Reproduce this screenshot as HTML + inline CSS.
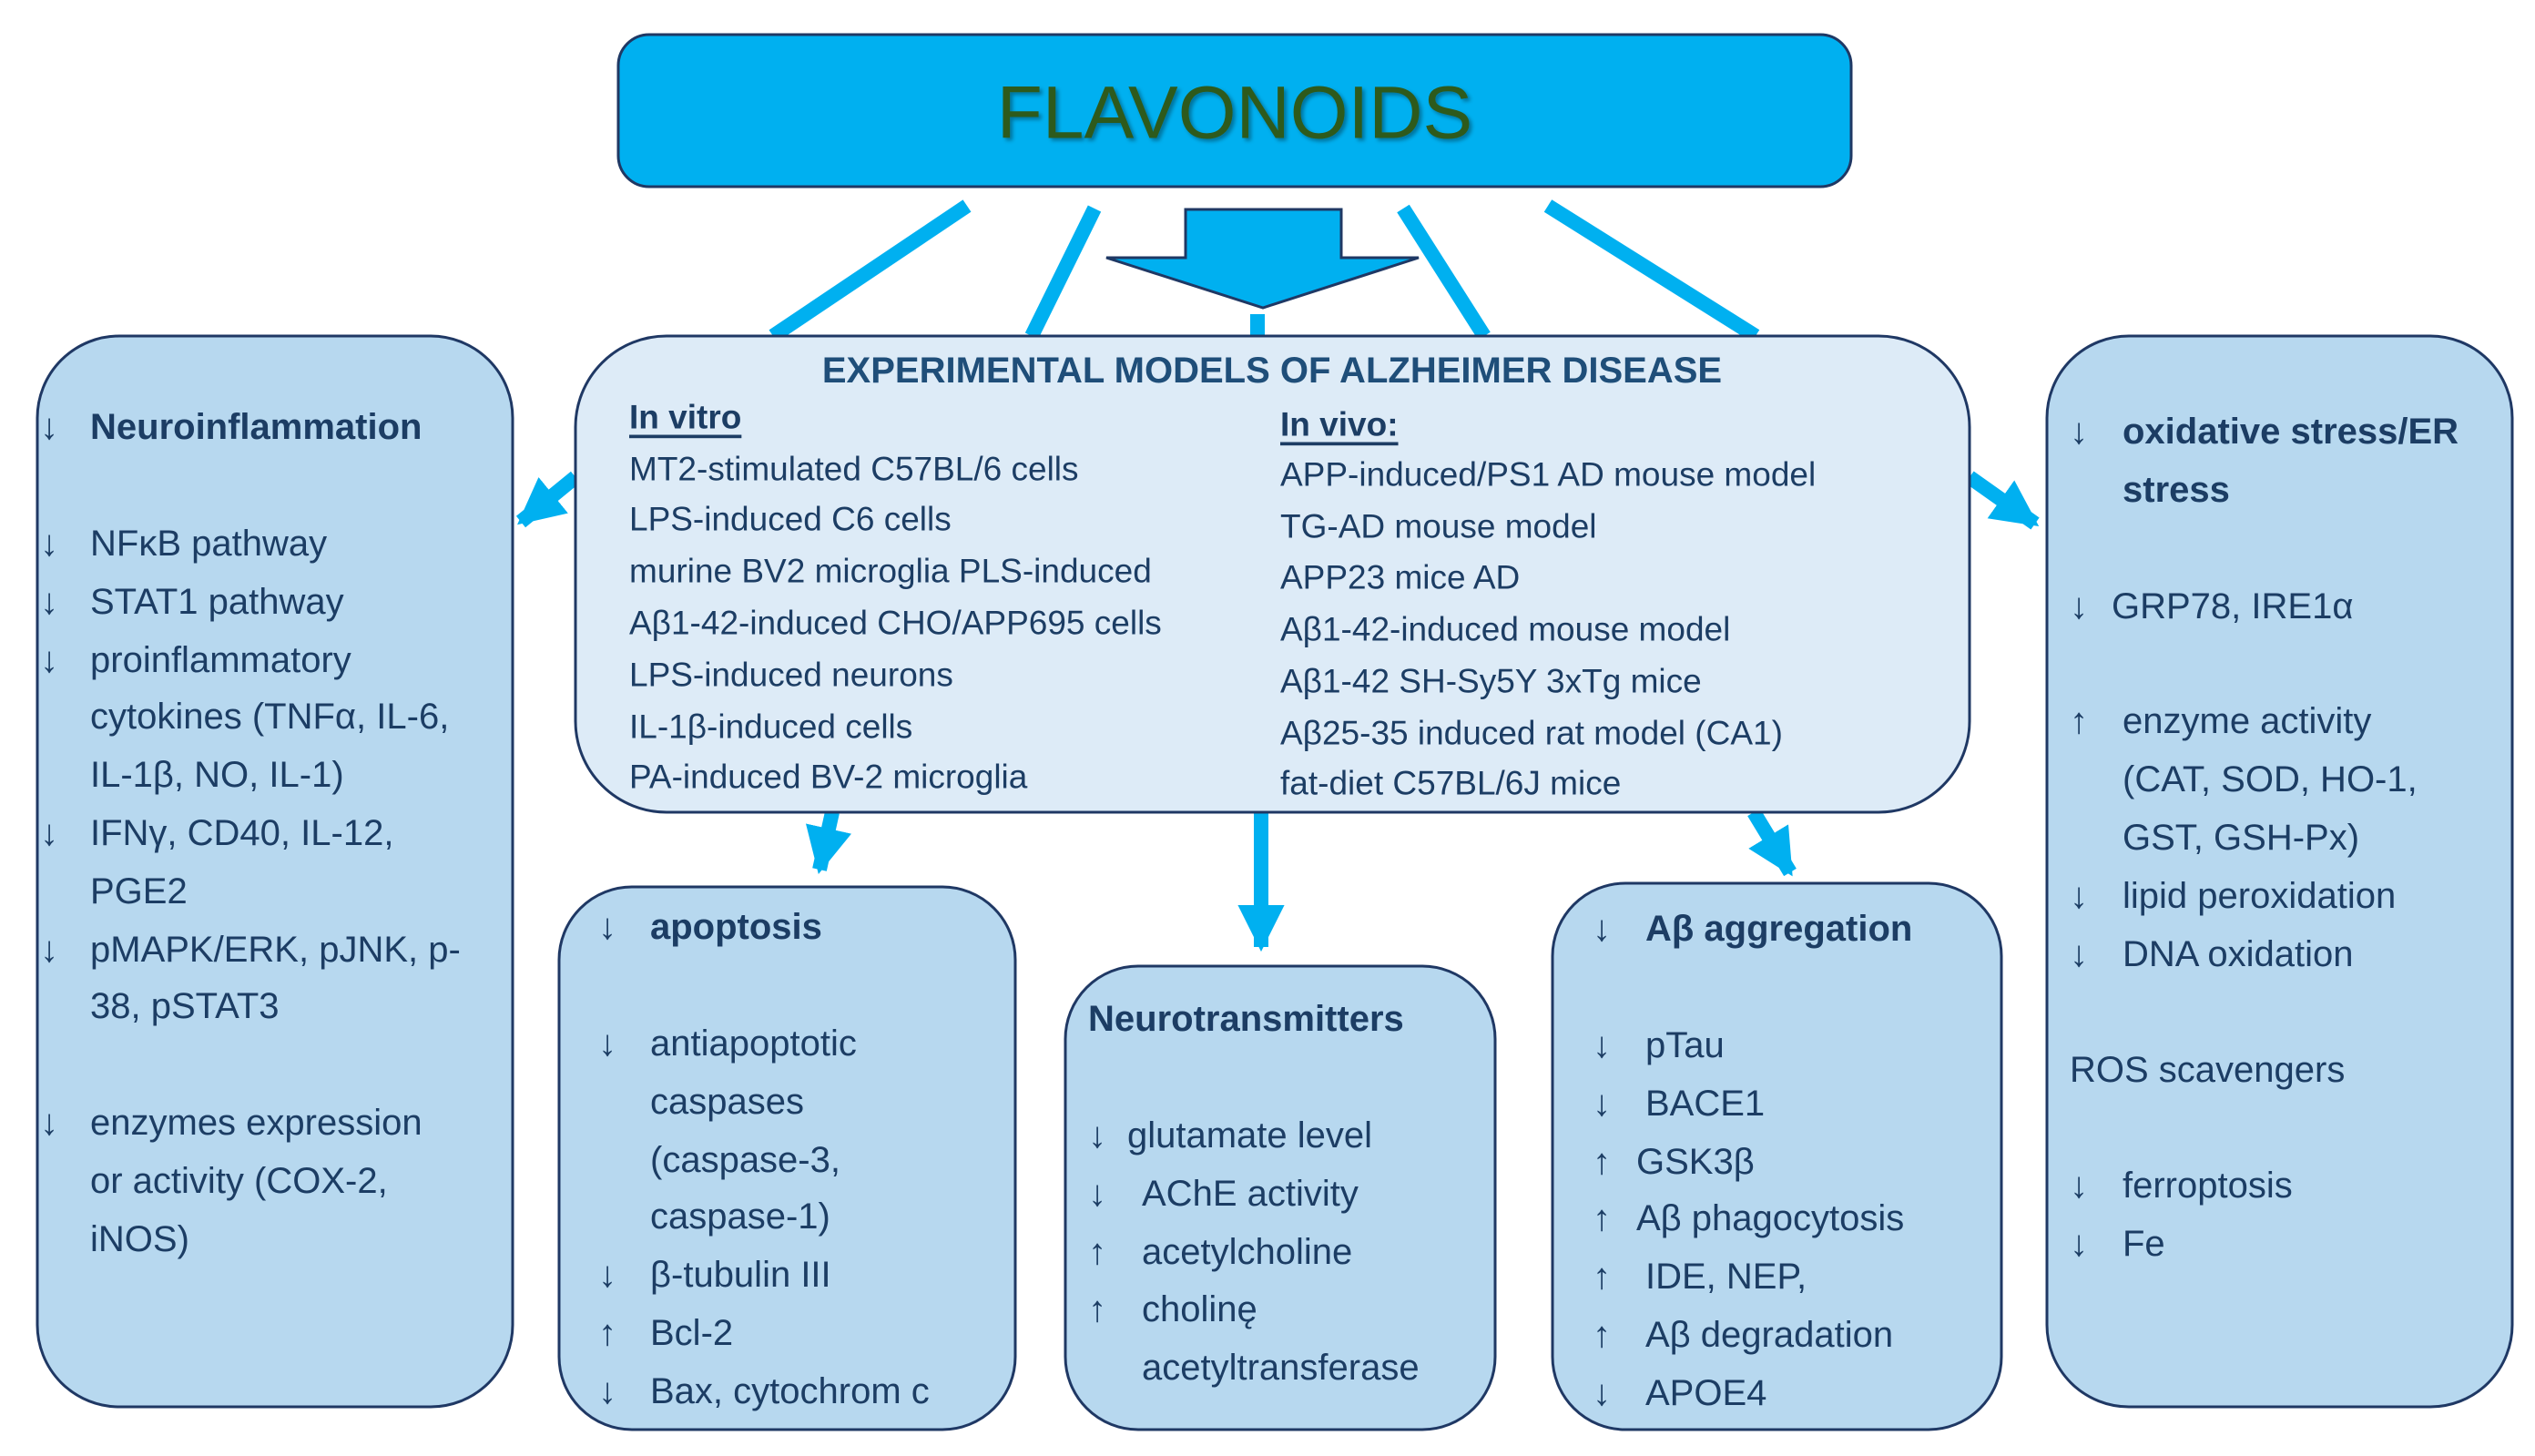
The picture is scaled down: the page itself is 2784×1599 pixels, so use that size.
<!DOCTYPE html>
<html><head><meta charset="utf-8"><style>
html,body{margin:0;padding:0;background:#fff;}
svg{display:block;}
text{font-family:"Liberation Sans",sans-serif;fill:#1c3d64;dominant-baseline:central;}
.s{font-size:40px;}
.c{font-size:37px;}
.b{font-weight:bold;}
</style></head><body>
<svg width="2784" height="1599" viewBox="0 0 2784 1599" xmlns="http://www.w3.org/2000/svg">
<defs>
<marker id="ah" viewBox="0 0 10 10" refX="9" refY="5" markerWidth="3.2" markerHeight="3.2" orient="auto" markerUnits="strokeWidth">
<path d="M0,0 L10,5 L0,10 z" fill="#00b0f0"/>
</marker>
<filter id="sh"><feDropShadow dx="3" dy="3" stdDeviation="2" flood-color="#000" flood-opacity="0.35"/></filter>
</defs>

<!-- connector lines from flavonoids -->
<g stroke="#00b0f0" stroke-width="16" fill="none">
<line x1="1062" y1="226" x2="849" y2="369"/>
<line x1="1202" y1="229" x2="1133" y2="369"/>
<line x1="1541" y1="229" x2="1630" y2="369"/>
<line x1="1700" y1="226" x2="1928" y2="369"/>
<line x1="1381" y1="345" x2="1381" y2="369"/>
</g>

<!-- FLAVONOIDS box -->
<rect x="679" y="38" width="1354" height="167" rx="34" fill="#00b0f0" stroke="#1f3864" stroke-width="3"/>
<text x="1356" y="124" text-anchor="middle" style="font-size:82px;fill:#2e5a1c;" filter="url(#sh)">FLAVONOIDS</text>

<!-- block arrow -->
<polygon points="1302,230 1473,230 1473,283 1558,283 1387,338 1215,283 1302,283" fill="#00b0f0" stroke="#1f3864" stroke-width="3"/>

<!-- output arrows -->
<g stroke="#00b0f0" stroke-width="16" fill="none" marker-end="url(#ah)">
<line x1="632" y1="524" x2="572" y2="573"/>
<line x1="2163" y1="524" x2="2235" y2="575"/>
<line x1="914" y1="892" x2="900" y2="955"/>
<line x1="1385" y1="892" x2="1385" y2="1040"/>
<line x1="1926" y1="892" x2="1966" y2="958"/>
</g>

<!-- boxes -->
<rect x="632" y="369" width="1531" height="523" rx="100" fill="#ddebf7" stroke="#1f3864" stroke-width="3"/>
<rect x="41" y="369" width="522" height="1176" rx="90" fill="#b7d8ef" stroke="#1f3864" stroke-width="3"/>
<rect x="2248" y="369" width="511" height="1176" rx="90" fill="#b7d8ef" stroke="#1f3864" stroke-width="3"/>
<rect x="614" y="974" width="501" height="596" rx="80" fill="#b7d8ef" stroke="#1f3864" stroke-width="3"/>
<rect x="1170" y="1061" width="472" height="509" rx="80" fill="#b7d8ef" stroke="#1f3864" stroke-width="3"/>
<rect x="1705" y="970" width="493" height="600" rx="80" fill="#b7d8ef" stroke="#1f3864" stroke-width="3"/>

<!-- center text -->
<text x="1397" y="407" text-anchor="middle" class="b" style="font-size:40px;fill:#1f4e79;">EXPERIMENTAL MODELS OF ALZHEIMER DISEASE</text>
<g class="c">
<text x="691" y="458" class="c b" text-decoration="underline">In vitro</text>
<text x="691" y="515" class="c">MT2-stimulated C57BL/6 cells</text>
<text x="691" y="570" class="c">LPS-induced C6 cells</text>
<text x="691" y="627" class="c">murine BV2 microglia PLS-induced</text>
<text x="691" y="684" class="c">Aβ1-42-induced CHO/APP695 cells</text>
<text x="691" y="741" class="c">LPS-induced neurons</text>
<text x="691" y="798" class="c">IL-1β-induced cells</text>
<text x="691" y="853" class="c">PA-induced BV-2 microglia</text>
<text x="1406" y="466" class="c b" text-decoration="underline">In vivo:</text>
<text x="1406" y="521" class="c">APP-induced/PS1 AD mouse model</text>
<text x="1406" y="578" class="c">TG-AD mouse model</text>
<text x="1406" y="634" class="c">APP23 mice AD</text>
<text x="1406" y="691" class="c">Aβ1-42-induced mouse model</text>
<text x="1406" y="748" class="c">Aβ1-42 SH-Sy5Y 3xTg mice</text>
<text x="1406" y="805" class="c">Aβ25-35 induced rat model (CA1)</text>
<text x="1406" y="860" class="c">fat-diet C57BL/6J mice</text>
</g>

<!-- left box -->
<g class="s">
<text x="44" y="469" class="s b">↓</text><text x="99" y="469" class="s b">Neuroinflammation</text>
<text x="44" y="597" class="s">↓</text><text x="99" y="597" class="s">NFκB pathway</text>
<text x="44" y="661" class="s">↓</text><text x="99" y="661" class="s">STAT1 pathway</text>
<text x="44" y="725" class="s">↓</text><text x="99" y="725" class="s">proinflammatory</text>
<text x="99" y="787" class="s">cytokines (TNFα, IL-6,</text>
<text x="99" y="851" class="s">IL-1β, NO, IL-1)</text>
<text x="44" y="915" class="s">↓</text><text x="99" y="915" class="s">IFNγ, CD40, IL-12,</text>
<text x="99" y="979" class="s">PGE2</text>
<text x="44" y="1043" class="s">↓</text><text x="99" y="1043" class="s">pMAPK/ERK, pJNK, p-</text>
<text x="99" y="1105" class="s">38, pSTAT3</text>
<text x="44" y="1233" class="s">↓</text><text x="99" y="1233" class="s">enzymes expression</text>
<text x="99" y="1297" class="s">or activity (COX-2,</text>
<text x="99" y="1361" class="s">iNOS)</text>
</g>

<!-- apoptosis -->
<text x="657" y="1018" class="s b">↓</text><text x="714" y="1018" class="s b">apoptosis</text>
<text x="657" y="1146" class="s">↓</text><text x="714" y="1146" class="s">antiapoptotic</text>
<text x="714" y="1210" class="s">caspases</text>
<text x="714" y="1274" class="s">(caspase-3,</text>
<text x="714" y="1336" class="s">caspase-1)</text>
<text x="657" y="1400" class="s">↓</text><text x="714" y="1400" class="s">β-tubulin III</text>
<text x="657" y="1464" class="s">↑</text><text x="714" y="1464" class="s">Bcl-2</text>
<text x="657" y="1528" class="s">↓</text><text x="714" y="1528" class="s">Bax, cytochrom c</text>

<!-- neurotransmitters -->
<text x="1195" y="1119" class="s b">Neurotransmitters</text>
<text x="1195" y="1247" class="s">↓</text><text x="1238" y="1247" class="s">glutamate level</text>
<text x="1195" y="1311" class="s">↓</text><text x="1254" y="1311" class="s">AChE activity</text>
<text x="1195" y="1375" class="s">↑</text><text x="1254" y="1375" class="s">acetylcholine</text>
<text x="1195" y="1438" class="s">↑</text><text x="1254" y="1438" class="s">cholinę</text>
<text x="1254" y="1502" class="s">acetyltransferase</text>

<!-- Abeta -->
<text x="1749" y="1020" class="s b">↓</text><text x="1807" y="1020" class="s b">Aβ aggregation</text>
<text x="1749" y="1148" class="s">↓</text><text x="1807" y="1148" class="s">pTau</text>
<text x="1749" y="1212" class="s">↓</text><text x="1807" y="1212" class="s">BACE1</text>
<text x="1749" y="1276" class="s">↑</text><text x="1797" y="1276" class="s">GSK3β</text>
<text x="1749" y="1338" class="s">↑</text><text x="1797" y="1338" class="s">Aβ phagocytosis</text>
<text x="1749" y="1402" class="s">↑</text><text x="1807" y="1402" class="s">IDE, NEP,</text>
<text x="1749" y="1466" class="s">↑</text><text x="1807" y="1466" class="s">Aβ degradation</text>
<text x="1749" y="1530" class="s">↓</text><text x="1807" y="1530" class="s">APOE4</text>

<!-- right box -->
<text x="2273" y="474" class="s b">↓</text><text x="2331" y="474" class="s b">oxidative stress/ER</text>
<text x="2331" y="538" class="s b">stress</text>
<text x="2273" y="666" class="s">↓</text><text x="2319" y="666" class="s">GRP78, IRE1α</text>
<text x="2273" y="792" class="s">↑</text><text x="2331" y="792" class="s">enzyme activity</text>
<text x="2331" y="856" class="s">(CAT, SOD, HO-1,</text>
<text x="2331" y="920" class="s">GST, GSH-Px)</text>
<text x="2273" y="984" class="s">↓</text><text x="2331" y="984" class="s">lipid  peroxidation</text>
<text x="2273" y="1048" class="s">↓</text><text x="2331" y="1048" class="s">DNA oxidation</text>
<text x="2273" y="1175" class="s">ROS scavengers</text>
<text x="2273" y="1302" class="s">↓</text><text x="2331" y="1302" class="s">ferroptosis</text>
<text x="2273" y="1366" class="s">↓</text><text x="2331" y="1366" class="s">Fe</text>
</svg>
</body></html>
